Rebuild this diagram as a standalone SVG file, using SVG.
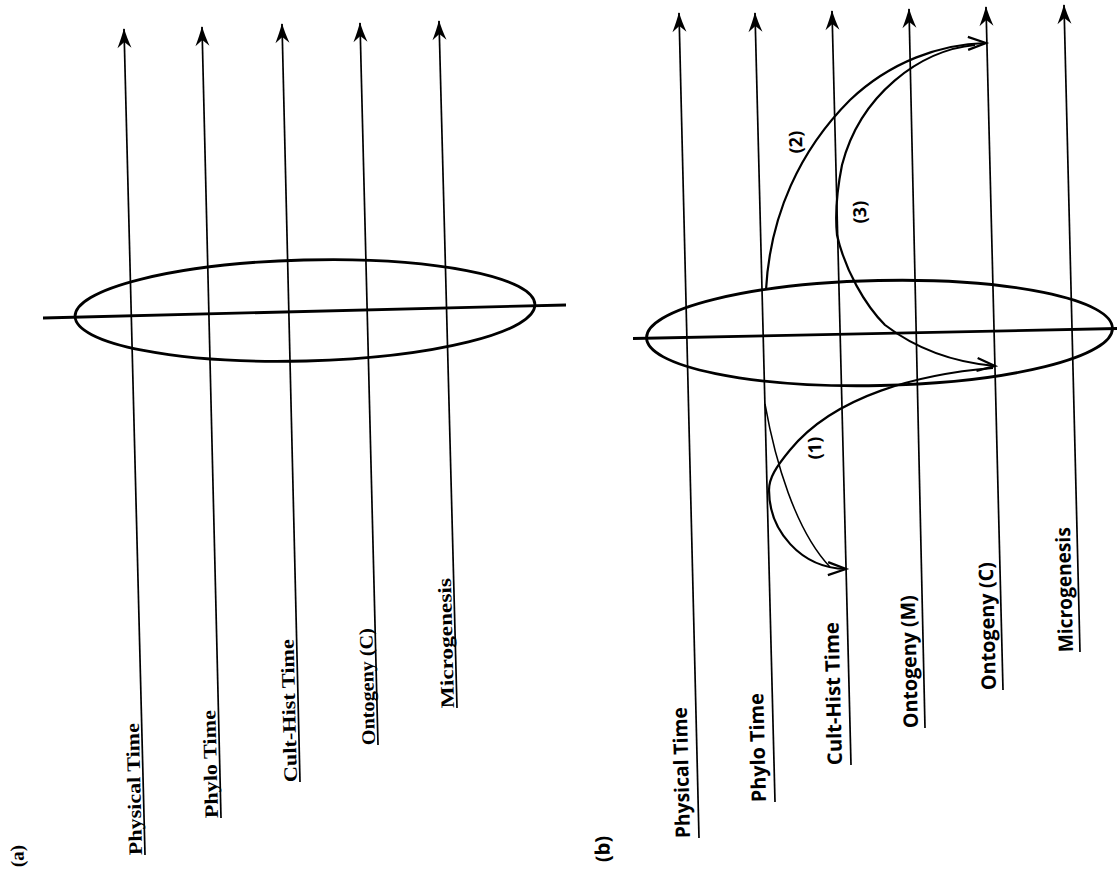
<svg xmlns="http://www.w3.org/2000/svg" width="1117" height="875" viewBox="0 0 1117 875">
<style>
.bg{fill:#fff}
.tl{stroke:#000;stroke-width:1.7;fill:none;marker-end:url(#ah)}
.ov{stroke:#000;stroke-width:2.8;fill:none}
.ax{stroke:#000;stroke-width:2.8;fill:none}
.cv{stroke:#000;stroke-width:2.2;fill:none}
.cvt{stroke:#000;stroke-width:1.5;fill:none}
.la{font-family:"Liberation Serif","Times New Roman",serif;font-weight:bold;font-size:19px;fill:#000}
.lb{font-family:"Open Sans","DejaVu Sans",sans-serif;font-weight:bold;font-size:20px;fill:#000}
.ln{font-family:"Open Sans","DejaVu Sans",sans-serif;font-weight:bold;font-size:18px;fill:#000}
</style>
<defs>
<marker id="ah" markerUnits="userSpaceOnUse" viewBox="-22 -9 24 18" markerWidth="24" markerHeight="18" refX="0" refY="0" orient="auto" overflow="visible">
<path d="M1,0 C-5,-1.5 -13,-4.5 -19,-7 L-13,0 L-19,7 C-13,4.5 -5,1.5 1,0Z" fill="#000"/>
</marker>
<marker id="chev" markerUnits="userSpaceOnUse" viewBox="-22 -9 24 18" markerWidth="24" markerHeight="18" refX="0" refY="0" orient="auto" overflow="visible">
<path d="M-18,-6.5 L0,0 L-18,6.5" fill="none" stroke="#000" stroke-width="2.2" stroke-linejoin="miter"/>
</marker>
</defs>
<rect class="bg" x="0" y="0" width="1117" height="875"/>

<g id="panel-a">
<text id="label-a" class="la" transform="translate(24,867) rotate(-91.4)">(a)</text>
<g id="a-ellipse">
<ellipse class="ov" cx="305" cy="310.5" rx="230" ry="50.5" transform="rotate(-1.5 305 310.5)"/>
<line class="ax" x1="43" y1="318" x2="566" y2="305"/>
</g>
<g id="a-physical">
<line class="tl" x1="145" y1="855" x2="124" y2="29"/>
<text class="la" transform="translate(142,855) rotate(-91.4)" textLength="132" lengthAdjust="spacingAndGlyphs">Physical Time</text>
</g>
<g id="a-phylo">
<line class="tl" x1="221" y1="818" x2="202" y2="27"/>
<text class="la" transform="translate(218,818) rotate(-91.4)" textLength="108" lengthAdjust="spacingAndGlyphs">Phylo Time</text>
</g>
<g id="a-culthist">
<line class="tl" x1="300" y1="782" x2="282" y2="24"/>
<text class="la" transform="translate(297,782) rotate(-91.4)" textLength="143" lengthAdjust="spacingAndGlyphs">Cult-Hist Time</text>
</g>
<g id="a-ontogeny-c">
<line class="tl" x1="378" y1="745" x2="360" y2="23"/>
<text class="la" transform="translate(375,745) rotate(-91.4)" textLength="117" lengthAdjust="spacingAndGlyphs">Ontogeny (C)</text>
</g>
<g id="a-microgenesis">
<line class="tl" x1="457" y1="708" x2="439" y2="21"/>
<text class="la" transform="translate(454,708) rotate(-91.4)" textLength="130" lengthAdjust="spacingAndGlyphs">Microgenesis</text>
</g>
</g>

<g id="panel-b">
<text id="label-b" class="lb" transform="translate(610,862) rotate(-91.4)">(b)</text>
<g id="b-ellipse">
<ellipse class="ov" cx="879.5" cy="333" rx="233" ry="52.5" transform="rotate(-1.2 879.5 333)"/>
<line class="ax" x1="633" y1="338.5" x2="1117" y2="328.5"/>
</g>
<g id="b-physical">
<line class="tl" x1="699" y1="838" x2="679" y2="13"/>
<text class="lb" transform="translate(690,838) rotate(-91.4)" textLength="131" lengthAdjust="spacingAndGlyphs">Physical Time</text>
</g>
<g id="b-phylo">
<line class="tl" x1="775" y1="802" x2="755" y2="13"/>
<text class="lb" transform="translate(766,802) rotate(-91.4)" textLength="109" lengthAdjust="spacingAndGlyphs">Phylo Time</text>
</g>
<g id="b-culthist">
<line class="tl" x1="851" y1="765" x2="832" y2="11"/>
<text class="lb" transform="translate(842,765) rotate(-91.4)" textLength="143" lengthAdjust="spacingAndGlyphs">Cult-Hist Time</text>
</g>
<g id="b-ontogeny-m">
<line class="tl" x1="925" y1="728" x2="909" y2="9"/>
<text class="lb" transform="translate(918,728) rotate(-91.4)" textLength="133" lengthAdjust="spacingAndGlyphs">Ontogeny (M)</text>
</g>
<g id="b-ontogeny-c">
<line class="tl" x1="1003" y1="690" x2="986" y2="7"/>
<text class="lb" transform="translate(996,690) rotate(-91.4)" textLength="128" lengthAdjust="spacingAndGlyphs">Ontogeny (C)</text>
</g>
<g id="b-microgenesis">
<line class="tl" x1="1080" y1="652" x2="1064" y2="5"/>
<text class="lb" transform="translate(1073,652) rotate(-91.4)" textLength="125" lengthAdjust="spacingAndGlyphs">Microgenesis</text>
</g>
</g>

<g id="connectors">
<path id="c2" class="cv" marker-end="url(#chev)" d="M766,290 C770,215 800,150 850,100 C890,62 940,44 986,43"/>
<path id="c3" class="cv" marker-end="url(#chev)" d="M975,45 C920,50 860,95 842,165 C836,195 835,215 837,235 C845,270 865,305 885,325 C915,348 950,362 995,366"/>
<path id="c1" class="cv" marker-end="url(#chev)" d="M993,368 C920,374 835,395 790,450 C776,467 769,478 769,490 C769,530 800,568 846,569"/>
<path id="c1b" class="cvt" d="M765,404 C775,460 795,530 830,567"/>
<text class="ln" text-anchor="middle" transform="translate(821,448) rotate(-91.4)">(1)</text>
<text class="ln" text-anchor="middle" transform="translate(802,142) rotate(-91.4)">(2)</text>
<text class="ln" text-anchor="middle" transform="translate(866,212) rotate(-91.4)">(3)</text>
</g>
</svg>
